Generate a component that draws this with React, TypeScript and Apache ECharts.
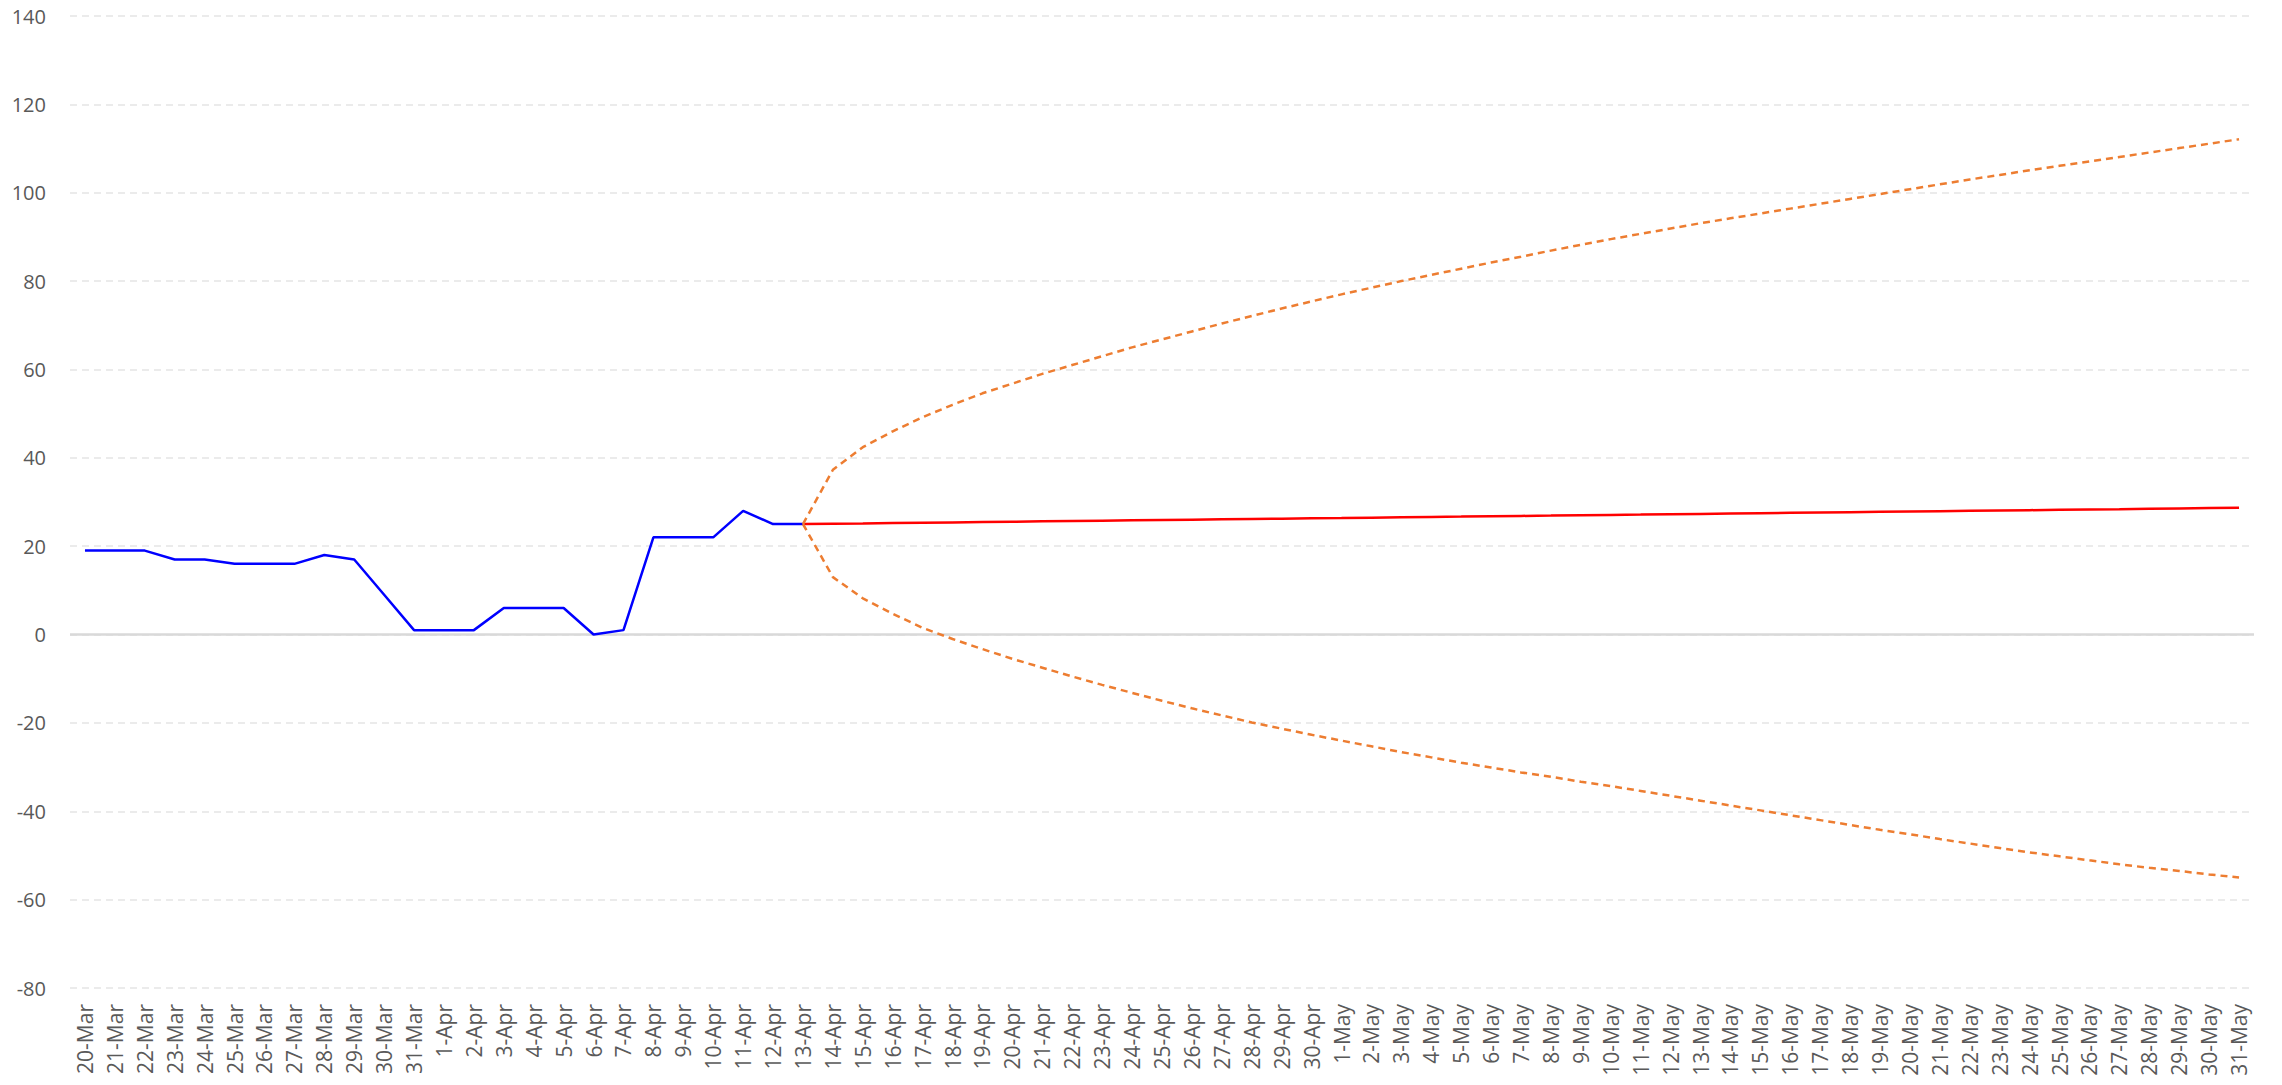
import React, { useEffect, useRef } from "react";
import * as echarts from "echarts";

const categories = [
  "20-Mar", "21-Mar", "22-Mar", "23-Mar", "24-Mar", "25-Mar", "26-Mar", "27-Mar", "28-Mar", "29-Mar", "30-Mar", "31-Mar",
  "1-Apr", "2-Apr", "3-Apr", "4-Apr", "5-Apr", "6-Apr", "7-Apr", "8-Apr", "9-Apr", "10-Apr",
  "11-Apr", "12-Apr", "13-Apr", "14-Apr", "15-Apr", "16-Apr", "17-Apr", "18-Apr", "19-Apr", "20-Apr",
  "21-Apr", "22-Apr", "23-Apr", "24-Apr", "25-Apr", "26-Apr", "27-Apr", "28-Apr", "29-Apr", "30-Apr",
  "1-May", "2-May", "3-May", "4-May", "5-May", "6-May", "7-May", "8-May", "9-May", "10-May",
  "11-May", "12-May", "13-May", "14-May", "15-May", "16-May", "17-May", "18-May", "19-May", "20-May",
  "21-May", "22-May", "23-May", "24-May", "25-May", "26-May", "27-May", "28-May", "29-May", "30-May", "31-May",
];

// Observed values, 20-Mar .. 13-Apr
const actual = [
  19, 19, 19, 17, 17, 16, 16, 16, 18, 17, 9, 1,
  1, 1, 6, 6, 6, 0, 1, 22, 22, 22, 28, 25, 25,
];

// Forecast values, 13-Apr .. 31-May
const forecast = [
  25.0, 25.08, 25.15, 25.23, 25.31, 25.38, 25.46, 25.54, 25.62, 25.69,
  25.77, 25.85, 25.92, 26.0, 26.08, 26.15, 26.23, 26.31, 26.38, 26.46,
  26.54, 26.62, 26.69, 26.77, 26.85, 26.92, 27.0, 27.08, 27.15, 27.23,
  27.31, 27.38, 27.46, 27.54, 27.62, 27.69, 27.77, 27.85, 27.92, 28.0,
  28.08, 28.15, 28.23, 28.31, 28.38, 28.46, 28.54, 28.62, 28.69,
];

const upperBound = [
  25.0, 37.3, 42.4, 46.0, 49.2, 52.0, 54.6, 56.8, 59.0, 61.0,
  63.0, 65.0, 66.8, 68.6, 70.4, 72.1, 73.8, 75.4, 77.0, 78.5,
  80.0, 81.4, 82.8, 84.2, 85.5, 86.9, 88.2, 89.5, 90.7, 91.9,
  93.1, 94.2, 95.3, 96.4, 97.5, 98.6, 99.7, 100.8, 101.9, 103.0,
  104.0, 105.1, 106.1, 107.1, 108.1, 109.1, 110.1, 111.1, 112.1,
];

const lowerBound = [
  25.0, 13.0, 8.2, 4.7, 1.5, -1.0, -3.3, -5.5, -7.5, -9.5,
  -11.4, -13.2, -15.0, -16.7, -18.3, -19.9, -21.3, -22.7, -24.0, -25.3,
  -26.6, -27.8, -29.0, -30.1, -31.2, -32.2, -33.3, -34.3, -35.4, -36.5,
  -37.6, -38.7, -39.8, -40.9, -42.0, -43.1, -44.2, -45.2, -46.3, -47.3,
  -48.3, -49.3, -50.2, -51.1, -52.0, -52.8, -53.5, -54.3, -55.0,
];

const yTicks = { min: -80, max: 140, interval: 20 };

const FONT = "'Open Sans', 'Noto Sans', sans-serif";

export default function App() {
  const ref = useRef<HTMLDivElement>(null);

  useEffect(() => {
    if (!ref.current) return;
    const chart = echarts.init(ref.current, undefined, { renderer: "svg" });

    const n = categories.length;
    const padActual = categories.map((_, i) => (i < actual.length ? actual[i] : null));
    const start = n - forecast.length;
    const pad = (arr: number[]) => categories.map((_, i) => (i >= start ? arr[i - start] : null));

    chart.setOption({
      animation: false,
      backgroundColor: "#ffffff",
      grid: { left: 70, right: 28, top: 16, bottom: 97, containLabel: false },
      xAxis: {
        type: "category",
        data: categories,
        boundaryGap: true,
        axisLine: { show: false },
        axisTick: { show: false },
        axisLabel: {
          interval: 0,
          rotate: 90,
          margin: 16,
          color: "#595959",
          fontSize: 21,
          fontFamily: FONT,
        },
        splitLine: { show: false },
      },
      yAxis: {
        type: "value",
        min: yTicks.min,
        max: yTicks.max,
        interval: yTicks.interval,
        axisLine: { show: false },
        axisTick: { show: false },
        axisLabel: {
          color: "#595959",
          fontSize: 20,
          fontFamily: FONT,
          margin: 24,
        },
        splitLine: {
          show: true,
          lineStyle: { color: "#ebebeb", width: 2, type: [7, 5] },
        },
      },
      series: [
        {
          name: "Actual",
          type: "line",
          data: padActual,
          symbol: "none",
          lineStyle: { color: "#0000ff", width: 2.5 },
          z: 3,
          markLine: {
            silent: true,
            symbol: "none",
            label: { show: false },
            lineStyle: { color: "#d9d9d9", width: 2.5, type: "solid" },
            data: [{ yAxis: 0 }],
            z: 1,
          },
        },
        {
          name: "Forecast",
          type: "line",
          data: pad(forecast),
          symbol: "none",
          lineStyle: { color: "#ff0000", width: 2.5 },
          z: 3,
        },
        {
          name: "Upper",
          type: "line",
          data: pad(upperBound),
          symbol: "none",
          lineStyle: { color: "#ed7d31", width: 2.5, type: [7, 5] },
          z: 4,
        },
        {
          name: "Lower",
          type: "line",
          data: pad(lowerBound),
          symbol: "none",
          lineStyle: { color: "#ed7d31", width: 2.5, type: [7, 5] },
          z: 4,
        },
      ],
    });

    return () => chart.dispose();
  }, []);

  return (
    <div
      ref={ref}
      style={{ position: "fixed", left: 0, top: 0, width: 2282, height: 1085, background: "#fff" }}
    />
  );
}
